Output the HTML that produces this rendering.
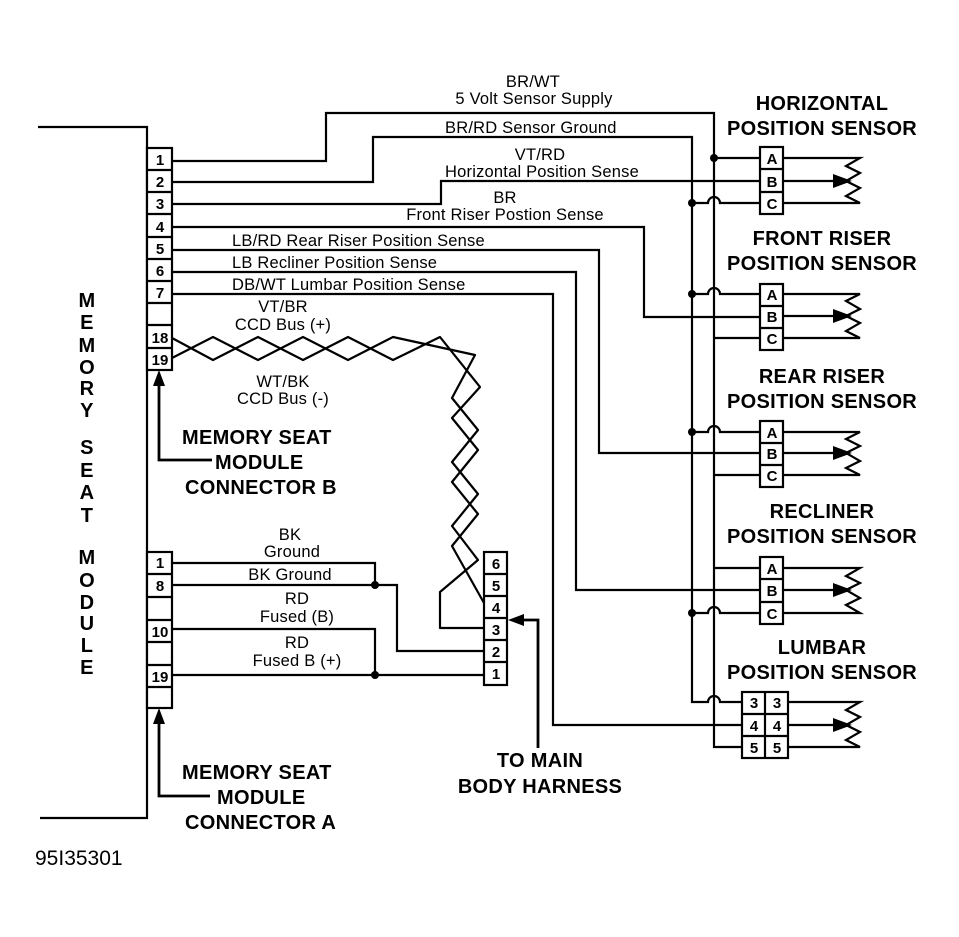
<!DOCTYPE html>
<html><head><meta charset="utf-8"><style>
html,body{margin:0;padding:0;background:#fff}
svg{display:block}
text{font-family:"Liberation Sans",sans-serif;fill:#000}
.l{font-size:16.5px;letter-spacing:0.2px}
.b{font-size:20px;font-weight:bold;letter-spacing:0.3px}
.p{font-size:15px;font-weight:bold}
</style></head><body>
<svg width="959" height="937" viewBox="0 0 959 937" xmlns="http://www.w3.org/2000/svg">
<g fill="none" stroke="#000" stroke-width="2.2">
<path d="M38 127H147V818H40"/>
<rect x="147" y="148" width="25" height="222" fill="#fff"/>
<path d="M147 170H172M147 192H172M147 214H172M147 237H172M147 259H172M147 281H172M147 303H172M147 325H172M147 348H172"/>
<rect x="147" y="552" width="25" height="156" fill="#fff"/>
<path d="M147 574H172M147 597H172M147 620H172M147 642H172M147 665H172M147 687H172"/>
<rect x="484" y="552" width="23" height="133" fill="#fff"/>
<path d="M484 574H507M484 596H507M484 618H507M484 640H507M484 662H507"/>
<path d="M172 161H326V113H714V747H742"/>
<path d="M172 182H373V137H692V702H708A6 6 0 0 1 720 702H742"/>
<path d="M172 204H441V181H760"/>
<path d="M172 227H644V317H760"/>
<path d="M172 250H599V453H760"/>
<path d="M172 272H576V590H760"/>
<path d="M172 294H553V725H742"/>
<path d="M714 158H760"/>
<path d="M692 203H708A6 6 0 0 1 720 203H760"/>
<path d="M692 294H708A6 6 0 0 1 720 294H760"/>
<path d="M714 338H760"/>
<path d="M692 432H708A6 6 0 0 1 720 432H760"/>
<path d="M714 475H760"/>
<path d="M714 568H760"/>
<path d="M692 613H708A6 6 0 0 1 720 613H760"/>
<rect x="760" y="147" width="23" height="67" fill="#fff"/><path d="M760 169H783M760 192H783"/>
<rect x="760" y="284" width="23" height="66" fill="#fff"/><path d="M760 306H783M760 328H783"/>
<rect x="760" y="421" width="23" height="66" fill="#fff"/><path d="M760 443H783M760 465H783"/>
<rect x="760" y="557" width="23" height="67" fill="#fff"/><path d="M760 579H783M760 602H783"/>
<rect x="742" y="692" width="46" height="66" fill="#fff"/><path d="M765 692V758M742 714H788M742 736H788"/>
<path d="M783 158H860L846 166L860 173L846 181L860 188L846 196L860 203H783"/>
<path d="M783 294H860L846 301L860 309L846 316L860 323L846 331L860 338H783"/>
<path d="M783 432H860L846 439L860 446L846 453L860 461L846 468L860 475H783"/>
<path d="M783 568H860L846 576L860 583L846 590L860 598L846 605L860 613H783"/>
<path d="M788 702H860L846 710L860 717L846 725L860 732L846 740L860 747H788"/>
<path d="M783 181H835M783 316H835M783 453H835M783 590H835M788 725H835"/>
<path d="M172 338L213 360L258 337L303 360L348 337L393 360L440 337L480 387L452 418L478 450L452 482L478 514L452 546L484 603" stroke-linejoin="round"/>
<path d="M172 358L213 337L258 360L303 337L348 360L393 337L475 355L452 398L478 430L452 462L478 494L452 526L478 560L440 592V628H484" stroke-linejoin="round"/>
<path d="M172 563H375V585"/>
<path d="M172 585H397V651H484"/>
<path d="M172 629H375V675"/>
<path d="M172 675H484"/>
<path d="M538 748V620H515" stroke-width="2.8"/>
<path d="M159 380V460H212" stroke-width="2.8"/>
<path d="M159 718V796H210" stroke-width="2.8"/>
</g>
<g fill="#000">
<circle cx="714" cy="158" r="4"/><circle cx="692" cy="203" r="4"/>
<circle cx="692" cy="294" r="4"/><circle cx="692" cy="432" r="4"/>
<circle cx="692" cy="613" r="4"/>
<circle cx="375" cy="585" r="4"/><circle cx="375" cy="675" r="4"/>
<path d="M833 174L833 188L852 181Z"/><path d="M833 309L833 323L852 316Z"/>
<path d="M833 446L833 460L852 453Z"/><path d="M833 583L833 597L852 590Z"/>
<path d="M833 718L833 732L852 725Z"/>
<path d="M508 620L524 614L524 626Z"/>
<path d="M159 370L153 386L165 386Z"/>
<path d="M159 708L153 724L165 724Z"/>
</g>
<g class="p" text-anchor="middle">
<text x="160" y="165">1</text><text x="160" y="187">2</text><text x="160" y="209">3</text>
<text x="160" y="232">4</text><text x="160" y="254">5</text><text x="160" y="276">6</text>
<text x="160" y="298">7</text><text x="160" y="343">18</text><text x="160" y="365">19</text>
<text x="160" y="568">1</text><text x="160" y="591">8</text><text x="160" y="637">10</text><text x="160" y="682">19</text>
<text x="496" y="569">6</text><text x="496" y="591">5</text><text x="496" y="613">4</text>
<text x="496" y="635">3</text><text x="496" y="657">2</text><text x="496" y="679">1</text>
<text x="772" y="164">A</text><text x="772" y="187">B</text><text x="772" y="209">C</text>
<text x="772" y="300">A</text><text x="772" y="322">B</text><text x="772" y="344">C</text>
<text x="772" y="438">A</text><text x="772" y="459">B</text><text x="772" y="481">C</text>
<text x="772" y="574">A</text><text x="772" y="596">B</text><text x="772" y="619">C</text>
<text x="754" y="708">3</text><text x="777" y="708">3</text>
<text x="754" y="731">4</text><text x="777" y="731">4</text>
<text x="754" y="753">5</text><text x="777" y="753">5</text>
</g>
<g class="l" text-anchor="middle">
<text x="533" y="87">BR/WT</text><text x="534" y="104">5 Volt Sensor Supply</text>
<text x="540" y="160">VT/RD</text><text x="542" y="177">Horizontal Position Sense</text>
<text x="505" y="203">BR</text><text x="505" y="220">Front Riser Postion Sense</text>
<text x="283" y="312">VT/BR</text><text x="283" y="330">CCD Bus (+)</text>
<text x="283" y="387">WT/BK</text><text x="283" y="404">CCD Bus (-)</text>
<text x="290" y="540">BK</text><text x="292" y="557">Ground</text>
<text x="290" y="580">BK Ground</text>
<text x="297" y="604">RD</text><text x="297" y="622">Fused (B)</text>
<text x="297" y="648">RD</text><text x="297" y="666">Fused B (+)</text>
</g>
<g class="l">
<text x="445" y="133">BR/RD  Sensor Ground</text>
<text x="232" y="246">LB/RD  Rear Riser Position Sense</text>
<text x="232" y="268">LB  Recliner Position Sense</text>
<text x="232" y="290">DB/WT  Lumbar Position Sense</text>
</g>
<g class="b" text-anchor="middle">
<text x="822" y="110">HORIZONTAL</text><text x="822" y="135">POSITION SENSOR</text>
<text x="822" y="245">FRONT RISER</text><text x="822" y="270">POSITION SENSOR</text>
<text x="822" y="383">REAR RISER</text><text x="822" y="408">POSITION SENSOR</text>
<text x="822" y="518">RECLINER</text><text x="822" y="543">POSITION SENSOR</text>
<text x="822" y="654">LUMBAR</text><text x="822" y="679">POSITION SENSOR</text>
<text x="540" y="767">TO MAIN</text><text x="540" y="793">BODY HARNESS</text>
<text x="87" y="307">M</text><text x="87" y="329">E</text><text x="87" y="352">M</text>
<text x="87" y="374">O</text><text x="87" y="395">R</text><text x="87" y="417">Y</text>
<text x="87" y="454">S</text><text x="87" y="477">E</text><text x="87" y="499">A</text><text x="87" y="522">T</text>
<text x="87" y="564">M</text><text x="87" y="587">O</text><text x="87" y="609">D</text>
<text x="87" y="630">U</text><text x="87" y="652">L</text><text x="87" y="674">E</text>
</g>
<g class="b">
<text x="182" y="444">MEMORY SEAT</text><text x="215" y="469">MODULE</text><text x="185" y="494">CONNECTOR B</text>
<text x="182" y="779">MEMORY SEAT</text><text x="217" y="804">MODULE</text><text x="185" y="829">CONNECTOR A</text>
</g>
<text x="35" y="865" style="font-size:21px">95I35301</text>
</svg>
</body></html>
